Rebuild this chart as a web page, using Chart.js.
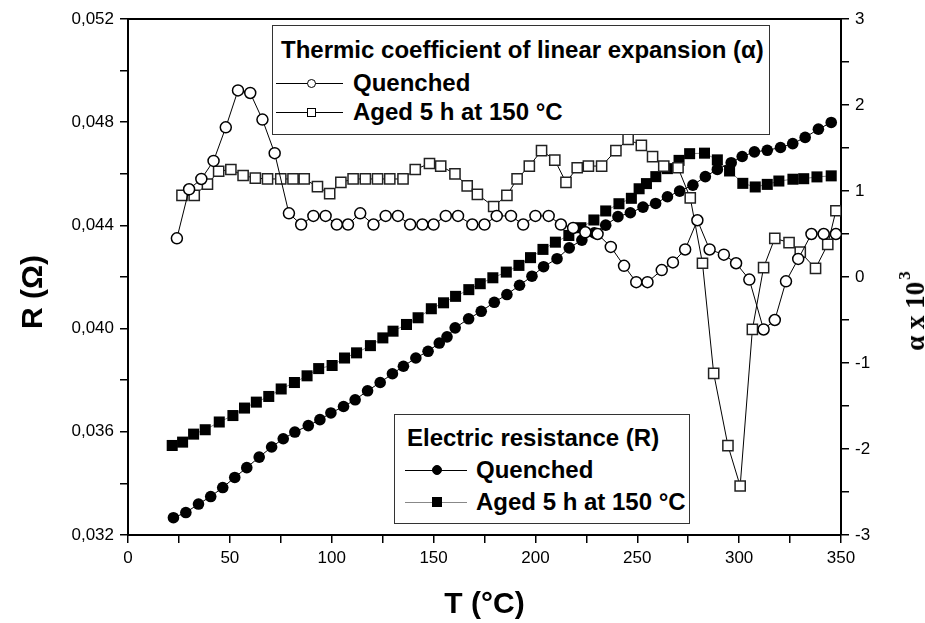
<!DOCTYPE html>
<html lang="en">
<head>
<meta charset="UTF-8">
<title>R and alpha versus T</title>
<script src="https://cdn.jsdelivr.net/npm/chart.js"></script>
<style>
  body { margin: 0; background: #fff; }
  #wrap { position: relative; width: 925px; height: 623px; font-family: "Liberation Sans", Arial, sans-serif; color: #000; }
  canvas { position: absolute; left: 0; top: 0; }
  .box { position: absolute; border: 1.5px solid #333; background: #fff; box-sizing: border-box; }
  .txt { position: absolute; font-weight: bold; font-size: 24px; line-height: 24px; white-space: nowrap; }
  .ln { position: absolute; height: 0; border-top: 1px solid #000; }
  .mk { position: absolute; box-sizing: border-box; border: 1.5px solid #000; background: #fff; }
  .rot { position: absolute; transform: translate(-50%, -50%) rotate(-90deg); white-space: nowrap; font-weight: bold; }
  #rTitle { left: 32px; top: 292px; font-size: 30px; }
  #alphaTitle { left: 915px; top: 311px; font-family: "Liberation Serif", "Times New Roman", serif; font-size: 27px; }
  #alphaTitle sup { font-size: 17px; position: relative; top: -4px; margin-left: 2px; }
</style>
</head>
<body>
<div id="wrap">
  <canvas id="c" width="925" height="623"></canvas>

  <!-- legend for the alpha curves -->
  <div class="box" style="left:272px;top:25px;width:498px;height:110px;"></div>
  <div class="txt" style="left:281px;top:38px;">Thermic coefficient of linear expansion (α)</div>
  <div class="ln" style="left:276px;top:83px;width:67px;"></div>
  <div class="mk" style="left:307px;top:79px;width:9px;height:9px;border-radius:50%;"></div>
  <div class="txt" style="left:353px;top:71px;">Quenched</div>
  <div class="ln" style="left:276px;top:112px;width:67px;"></div>
  <div class="mk" style="left:307px;top:108px;width:9px;height:9px;"></div>
  <div class="txt" style="left:353px;top:100px;">Aged 5 h at 150 °C</div>

  <!-- legend for the resistance curves -->
  <div class="box" style="left:394px;top:414px;width:296px;height:110px;"></div>
  <div class="txt" style="left:407px;top:426px;">Electric resistance (R)</div>
  <div class="ln" style="left:405px;top:470px;width:62px;"></div>
  <div class="mk" style="left:432px;top:465px;width:10px;height:10px;border-radius:50%;background:#000;"></div>
  <div class="txt" style="left:476px;top:458px;">Quenched</div>
  <div class="ln" style="left:405px;top:502px;width:62px;border-color:#888;"></div>
  <div class="mk" style="left:432px;top:497px;width:10px;height:10px;background:#000;"></div>
  <div class="txt" style="left:476px;top:490px;">Aged 5 h at 150 °C</div>

  <div class="rot" id="rTitle">R (Ω)</div>
  <div class="rot" id="alphaTitle">α x 10<sup>3</sup></div>
</div>

<script>
// alpha x 10^3, quenched (open circles)
const tAlphaQ = [24, 30, 36, 42, 48, 54, 60, 66, 72, 79, 85, 91, 97, 102.5, 108, 114, 120.5, 126.5,
  132.5, 138.5, 144.5, 150, 156, 162, 169, 175, 181, 188, 194, 200, 206.5, 212.5, 218.5, 224.5,
  230.5, 237, 243.5, 249.5, 255, 262, 267.5, 273.5, 279.5, 285.5, 292.5, 298.5, 305, 312, 317.5,
  323, 329, 335.5, 341.5, 347.5];
const alphaQ = [0.45, 1.02, 1.14, 1.35, 1.74, 2.17, 2.14, 1.83, 1.44, 0.74, 0.61, 0.71, 0.71, 0.61,
  0.61, 0.74, 0.61, 0.71, 0.71, 0.61, 0.61, 0.61, 0.71, 0.71, 0.61, 0.61, 0.71, 0.71, 0.61, 0.71,
  0.71, 0.61, 0.57, 0.52, 0.50, 0.35, 0.13, -0.06, -0.06, 0.08, 0.17, 0.32, 0.66, 0.32, 0.26, 0.16,
  -0.03, -0.61, -0.50, -0.05, 0.21, 0.50, 0.50, 0.50];

// alpha x 10^3, aged 5 h at 150 C (open squares)
const tAlphaA = [26.5, 32.5, 39, 44.5, 50.5, 56.5, 62.5, 68.5, 75, 81, 86.5, 93, 99, 104.5, 110.5,
  116.5, 122.5, 128.5, 135, 141, 148, 153.5, 160.5, 166.5, 171.5, 179.5, 186, 191, 197, 203, 209.5,
  215, 220.5, 226, 232.5, 239.5, 245.5, 252, 257.5, 263, 270, 276, 282, 287.5, 294.5, 300.5, 306.5,
  312, 317.5, 324.5, 330, 337.5, 343.5, 347.5];
const alphaA = [0.95, 0.95, 1.08, 1.23, 1.25, 1.18, 1.15, 1.14, 1.14, 1.14, 1.14, 1.05, 0.97, 1.10,
  1.14, 1.14, 1.14, 1.14, 1.14, 1.25, 1.32, 1.29, 1.20, 1.06, 0.96, 0.82, 0.95, 1.14, 1.29, 1.47,
  1.36, 1.10, 1.27, 1.29, 1.29, 1.47, 1.60, 1.53, 1.40, 1.29, 1.27, 0.92, 0.16, -1.12, -1.96, -2.43,
  -0.61, 0.11, 0.45, 0.40, 0.29, 0.10, 0.38, 0.77];

// resistance, quenched (filled circles)
const tResQ = [22.3, 28.4, 34.6, 40.6, 46.5, 52.4, 58.3, 64.4, 70.5, 76.2, 81.9, 88.5, 94.2, 99.6,
  105.8, 111.5, 117.6, 123.8, 129.8, 135.2, 141.3, 147.3, 152.8, 156.6, 160.6, 167.2, 173.4, 179.8,
  186.0, 192.2, 198.3, 204.0, 210.6, 216.6, 222.8, 228.9, 234.5, 240.5, 246.6, 252.8, 259.0, 264.8,
  270.8, 277.3, 283.4, 289.3, 296.1, 301.5, 307.5, 313.8, 320.3, 326.3, 332.4, 338.9, 345.2];
const resQ = [0.03267, 0.03287, 0.03320, 0.03349, 0.03384, 0.03423, 0.03461, 0.03502, 0.03541,
  0.03573, 0.03599, 0.03624, 0.03647, 0.03673, 0.03698, 0.03724, 0.03759, 0.03791, 0.03825, 0.03854,
  0.03886, 0.03912, 0.03944, 0.03968, 0.04003, 0.04038, 0.04067, 0.04102, 0.04132, 0.04168, 0.04203,
  0.04240, 0.04271, 0.04313, 0.04343, 0.04371, 0.04401, 0.04434, 0.04449, 0.04471, 0.04485, 0.04511,
  0.04533, 0.04556, 0.04589, 0.04617, 0.04643, 0.04667, 0.04685, 0.04691, 0.04702, 0.04717, 0.04741,
  0.04773, 0.04799];

// resistance, aged 5 h at 150 C (filled squares)
const tResA = [21.7, 26.8, 32.2, 37.9, 44.8, 51.5, 57.2, 63.0, 69.1, 75.2, 81.7, 87.9, 93.6, 100.2,
  106.3, 112.2, 119.0, 125.1, 130.1, 136.7, 142.4, 148.9, 154.9, 160.8, 167.3, 172.9, 179.1, 185.7,
  191.9, 197.6, 203.7, 209.8, 216.4, 222.3, 228.7, 234.5, 241.0, 247.1, 250.9, 254.5, 259.1, 264.8,
  270.5, 275.7, 283.0, 289.3, 295.3, 301.8, 307.9, 313.8, 319.5, 326.4, 331.7, 338.2, 345.2];
const resA = [0.03547, 0.03560, 0.03591, 0.03608, 0.03638, 0.03663, 0.03692, 0.03715, 0.03737,
  0.03766, 0.03791, 0.03817, 0.03845, 0.03857, 0.03886, 0.03906, 0.03934, 0.03964, 0.03990, 0.04016,
  0.04042, 0.04077, 0.04100, 0.04125, 0.04151, 0.04174, 0.04197, 0.04219, 0.04245, 0.04275, 0.04307,
  0.04335, 0.04361, 0.04391, 0.04421, 0.04456, 0.04484, 0.04505, 0.04542, 0.04562, 0.04589, 0.04620,
  0.04652, 0.04678, 0.04680, 0.04654, 0.04611, 0.04563, 0.04549, 0.04559, 0.04572, 0.04579, 0.04581,
  0.04588, 0.04592];

function pts(xs, ys) {
  return xs.map((x, i) => ({ x: x, y: ys[i] }));
}

Chart.defaults.font.family = "'Liberation Sans', Arial, sans-serif";
Chart.defaults.color = '#000';

const tickFont = { size: 17 };

new Chart(document.getElementById('c'), {
  type: 'scatter',
  data: {
    datasets: [
      {
        label: 'alpha quenched', data: pts(tAlphaQ, alphaQ), xAxisID: 'x', yAxisID: 'y1',
        showLine: true, borderColor: '#000', borderWidth: 1,
        pointStyle: 'circle', pointRadius: 5.5, pointBorderWidth: 1.5,
        pointBackgroundColor: '#fff', pointBorderColor: '#000'
      },
      {
        label: 'alpha aged', data: pts(tAlphaA, alphaA), xAxisID: 'x', yAxisID: 'y1',
        showLine: true, borderColor: '#000', borderWidth: 1,
        pointStyle: 'rect', pointRadius: 7.2, pointBorderWidth: 1.5,
        pointBackgroundColor: '#fff', pointBorderColor: '#222'
      },
      {
        label: 'R quenched', data: pts(tResQ, resQ), xAxisID: 'x', yAxisID: 'y',
        showLine: true, borderColor: '#000', borderWidth: 1,
        pointStyle: 'circle', pointRadius: 5.8, pointBorderWidth: 0,
        pointBackgroundColor: '#000', pointBorderColor: '#000'
      },
      {
        label: 'R aged', data: pts(tResA, resA), xAxisID: 'x', yAxisID: 'y',
        showLine: true, borderColor: '#888', borderWidth: 1,
        pointStyle: 'rect', pointRadius: 7.8, pointBorderWidth: 0,
        pointBackgroundColor: '#000', pointBorderColor: '#000'
      }
    ]
  },
  options: {
    responsive: false,
    animation: false,
    layout: { padding: 0 },
    plugins: { legend: { display: false }, tooltip: { enabled: false } },
    scales: {
      x: {
        type: 'linear', position: 'bottom', min: 0, max: 350,
        ticks: {
          stepSize: 25, autoSkip: false, maxRotation: 0, font: tickFont, padding: 5,
          callback: v => (v % 50 === 0 ? String(v) : '')
        },
        grid: { drawOnChartArea: false, tickLength: 8, color: '#000', lineWidth: 1.5 },
        border: { color: '#000', width: 2 },
        title: { display: true, text: 'T (°C)', font: { size: 30, weight: 'bold' }, padding: { bottom: 0 } },
        afterFit: s => { s.height = 88; }
      },
      xTop: {
        type: 'linear', position: 'top', min: 0, max: 350,
        ticks: { display: false },
        grid: { drawOnChartArea: false, drawTicks: false },
        border: { color: '#000', width: 2 },
        afterFit: s => { s.height = 19; }
      },
      y: {
        type: 'linear', position: 'left', min: 0.032, max: 0.052,
        ticks: {
          stepSize: 0.002, autoSkip: false, font: tickFont, padding: 6,
          callback: v => {
            const k = Math.round(v * 1000);
            return k % 4 === 0 ? (k / 1000).toFixed(3).replace('.', ',') : '';
          }
        },
        grid: { drawOnChartArea: false, tickLength: 8, color: '#000', lineWidth: 1.5 },
        border: { color: '#000', width: 2 },
        afterFit: s => { s.width = 128; }
      },
      y1: {
        type: 'linear', position: 'right', min: -3, max: 3,
        ticks: {
          stepSize: 0.5, autoSkip: false, font: tickFont, padding: 6,
          callback: v => (Math.abs(v % 1) < 1e-9 ? String(Math.round(v)) : '')
        },
        grid: { drawOnChartArea: false, tickLength: 8, color: '#000', lineWidth: 1.5 },
        border: { color: '#000', width: 2 },
        afterFit: s => { s.width = 84; }
      }
    }
  }
});
</script>
</body>
</html>
